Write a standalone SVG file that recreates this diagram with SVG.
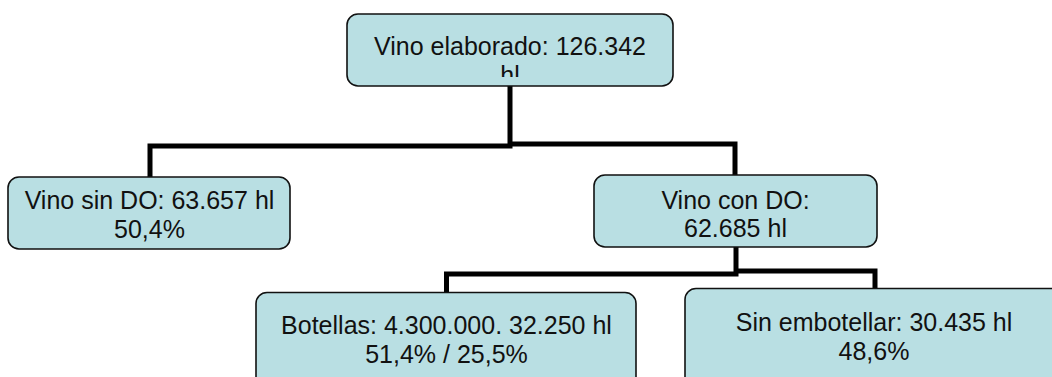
<svg xmlns="http://www.w3.org/2000/svg" width="1052" height="377" viewBox="0 0 1052 377">
  <style>
    .box { fill: #b9dfe3; stroke: #111; stroke-width: 1.6; }
    .lbl { font-family: "Liberation Sans", Arial, sans-serif; font-size: 25px; fill: #111; text-anchor: middle; }
    .conn { fill: none; stroke: #000; stroke-width: 5; stroke-linejoin: miter; stroke-linecap: butt; }
  </style>
  <defs>
    <clipPath id="clipTop"><rect x="347" y="14" width="326" height="63"/></clipPath>
  </defs>
  <rect width="1052" height="377" fill="#ffffff"/>
  <g id="connectors">
    <path class="conn" d="M510,86 V146 H150 V177"/>
    <path class="conn" d="M510,144 H735 V175"/>
    <path class="conn" d="M736,247 V274 H446.5 V292"/>
    <path class="conn" d="M736,271 H875 V289"/>
  </g>
  <g id="node-elaborado">
    <rect class="box" x="347" y="14" width="326" height="72" rx="11"/>
    <g clip-path="url(#clipTop)">
      <text class="lbl" x="510" y="55">Vino elaborado: 126.342</text>
      <text class="lbl" x="510" y="84">hl</text>
    </g>
  </g>
  <g id="node-sin-do">
    <rect class="box" x="8" y="177" width="282" height="72" rx="11"/>
    <text class="lbl" x="149.5" y="209">Vino sin DO: 63.657 hl</text>
    <text class="lbl" x="149.5" y="238">50,4%</text>
  </g>
  <g id="node-con-do">
    <rect class="box" x="594" y="175" width="283" height="72" rx="11"/>
    <text class="lbl" x="735.5" y="209">Vino con DO:</text>
    <text class="lbl" x="735.5" y="237">62.685 hl</text>
  </g>
  <g id="node-botellas">
    <rect class="box" x="256" y="292.5" width="380" height="110" rx="11"/>
    <text class="lbl" x="446.5" y="334">Botellas: 4.300.000. 32.250 hl</text>
    <text class="lbl" x="446.5" y="363">51,4% / 25,5%</text>
  </g>
  <g id="node-sin-embotellar">
    <rect class="box" x="685" y="288.5" width="400" height="110" rx="11"/>
    <text class="lbl" x="874" y="331">Sin embotellar: 30.435 hl</text>
    <text class="lbl" x="874" y="360">48,6%</text>
  </g>
</svg>
